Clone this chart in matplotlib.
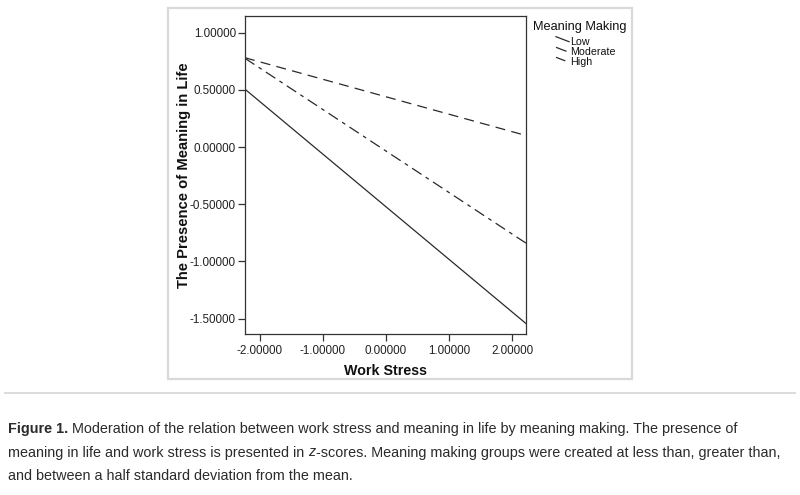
import matplotlib
matplotlib.use('agg')
import matplotlib.pyplot as plt
from matplotlib.lines import Line2D
from matplotlib.patches import Rectangle

plt.rcParams['font.family'] = ['Liberation Sans', 'DejaVu Sans']

# values (z-scores)
work_stress = [-2.23, 2.22]
low = [0.506, -1.543]
moderate = [0.776, -0.84]
high = [0.781, 0.101]
group_names = ['Low', 'Moderate', 'High']
x_ticks = [-2, -1, 0, 1, 2]
y_ticks = [1.0, 0.5, 0.0, -0.5, -1.0, -1.5]

W, H = 800, 495
fig = plt.figure(figsize=(8, 4.95), dpi=100)

def fx(px):
    return px / W

def fy(py):
    return 1 - py / H

# grey frame round the chart image and the rule under it
fig.add_artist(Rectangle((fx(168), fy(379)), fx(632) - fx(168), fy(8) - fy(379),
                         transform=fig.transFigure, fill=False, ec='#d9d9d9', lw=1.6))
fig.add_artist(Line2D([fx(5), fx(795)], [fy(393), fy(393)], transform=fig.transFigure,
                      color='#dcdcdc', lw=1.4))

ax = fig.add_axes([fx(245), fy(333.5), fx(526) - fx(245), fy(16) - fy(333.5)])
line_col = '#2a2a2a'
styles = {
    'Low': dict(ls='-'),
    'Moderate': dict(ls=(0, (9, 4, 3, 4))),
    'High': dict(ls=(0, (8, 5))),
}
for name, vals in zip(group_names, [low, moderate, high]):
    ax.plot(work_stress, vals, color=line_col, lw=0.9, **styles[name])

ax.set_xlim(-2.23, 2.22)
ax.set_ylim(-1.63, 1.146)
ax.set_xticks(x_ticks)
ax.set_xticklabels(['%.5f' % v for v in x_ticks])
ax.set_yticks(y_ticks)
ax.set_yticklabels(['%.5f' % v for v in y_ticks])
ax.tick_params(direction='out', length=5, width=0.9, color='#333333',
               labelsize=8.4, labelcolor='#222222', pad=3)
ax.tick_params(axis='y', pad=1.5)
for s in ax.spines.values():
    s.set_color('#333333')
    s.set_linewidth(0.9)
ax.set_xlabel('Work Stress', fontsize=10.3, fontweight='bold', color='#111111', labelpad=5)
ax.set_ylabel('The Presence of Meaning in Life', fontsize=10.6, fontweight='bold',
              color='#111111', labelpad=-1)

# legend with slanted samples like the SPSS output
fig.text(fx(533), fy(27), 'Meaning Making', fontsize=9.2, va='center', ha='left', color='#111111')
leg_y = [41.7, 52.3, 62.3]
for name, yy in zip(group_names, leg_y):
    fig.add_artist(Line2D([fx(556), fx(569)], [fy(yy - 5), fy(yy)], transform=fig.transFigure,
                          color=line_col, lw=0.9, **styles[name]))
    fig.text(fx(570), fy(yy), name, fontsize=7.7, va='center', ha='left', color='#111111')

# caption with mixed styles
caption = [
    [('Figure 1.', 'bold', 'normal'),
     (' Moderation of the relation between work stress and meaning in life by meaning making. The presence of', 'normal', 'normal')],
    [('meaning in life and work stress is presented in ', 'normal', 'normal'), ('z', 'normal', 'italic'),
     ('-scores. Meaning making groups were created at less than, greater than,', 'normal', 'normal')],
    [('and between a half standard deviation from the mean.', 'normal', 'normal')],
]
cap_y = [429, 452.5, 476.5]
renderer = fig.canvas.get_renderer()
for parts, yy in zip(caption, cap_y):
    x = fx(8)
    for txt, wt, st in parts:
        t = fig.text(x, fy(yy), txt, fontsize=10.4, fontweight=wt, fontstyle=st,
                     va='center', ha='left', color='#2b2b2b')
        bb = t.get_window_extent(renderer=renderer)
        x += bb.width / W

fig.savefig('out.png', dpi=100)
